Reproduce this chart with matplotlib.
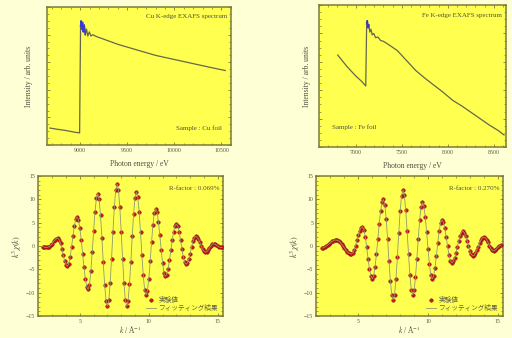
import numpy as np
import matplotlib
matplotlib.use("Agg")
import matplotlib.pyplot as plt
from matplotlib.ticker import MultipleLocator

plt.rcParams['font.family'] = ['Liberation Serif', 'Noto Sans CJK JP', 'DejaVu Sans']
plt.rcParams['mathtext.fontset'] = 'stix'

# ---- Cu K-edge spectrum (arb. units)
cu_energy = [8680, 8750, 8850, 8950, 8995, 9000, 9005, 9010, 9018, 9026, 9034, 9044,
             9055, 9068, 9082, 9098, 9115, 9135, 9160, 9200, 9300, 9400, 9500, 9600,
             9700, 9800, 9900, 10000, 10100, 10200, 10300, 10400, 10540]
cu_intensity = [0.123, 0.115, 0.105, 0.092, 0.088, 0.50, 0.86, 0.90, 0.84, 0.89, 0.82, 0.87,
                0.80, 0.84, 0.79, 0.82, 0.79, 0.80, 0.79, 0.78, 0.755, 0.73, 0.71, 0.69,
                0.67, 0.65, 0.635, 0.62, 0.605, 0.59, 0.575, 0.56, 0.54]

# ---- Fe K-edge spectrum
fe_energy = [6804, 6900, 7000, 7060, 7108, 7112, 7118, 7125, 7133, 7142, 7152, 7164,
             7178, 7195, 7215, 7240, 7270, 7300, 7360, 7450, 7550, 7650, 7750, 7850,
             7950, 8050, 8150, 8250, 8350, 8450, 8550, 8610]
fe_intensity = [0.648, 0.57, 0.50, 0.465, 0.43, 0.60, 0.87, 0.89, 0.84, 0.86, 0.81, 0.83,
                0.79, 0.80, 0.77, 0.775, 0.75, 0.745, 0.72, 0.68, 0.61, 0.54, 0.485, 0.435,
                0.385, 0.33, 0.29, 0.245, 0.20, 0.155, 0.115, 0.085]

# ---- k^3 chi(k), Cu foil (k = 2.3 ... 15.3, step 0.1)
cu_k_start = 2.3
cu_chi = [-0.1, -0.2, -0.3, -0.3, -0.2,
          -0.1, 0.2, 0.5, 1.0, 1.3, 1.6, 1.7,
          1.4, 0.6, -0.6, -2.0, -3.2, -4.0, -4.3,
          -3.8, -2.3, -0.2, 2.1, 4.2, 5.7, 6.2,
          5.6, 3.9, 1.4, -1.6, -4.5, -7.0, -8.7, -9.3,
          -8.3, -5.4, -1.3, 3.2, 7.3, 10.2, 11.2,
          10.0, 6.6, 1.8, -3.5, -8.3, -11.7, -12.9,
          -11.6, -7.9, -2.7, 3.1, 8.3, 12.0, 13.3,
          12.0, 8.3, 3.1, -2.7, -7.9, -11.6, -12.9,
          -11.7, -8.2, -3.4, 2.1, 6.9, 10.4, 11.6,
          10.5, 7.4, 3.0, -1.9, -6.3, -9.4, -10.5,
          -9.6, -7.0, -3.3, 0.8, 4.5, 7.1, 8.0,
          7.3, 5.2, 2.3, -0.8, -3.7, -5.8, -6.5,
          -6.1, -4.9, -3.0, -0.9, 1.2, 3.1, 4.3, 4.7,
          4.3, 3.1, 1.3, -0.6, -2.3, -3.5, -3.9,
          -3.6, -2.8, -1.6, -0.2, 1.0, 1.8, 2.1,
          1.9, 1.5, 0.8, 0.0, -0.7, -1.1, -1.3,
          -1.2, -0.9, -0.4, 0.0, 0.4, 0.5,
          0.4, 0.2, 0.0, -0.2, -0.3, -0.3]

# ---- k^3 chi(k), Fe foil (k = 2.4 ... 15.2, step 0.1)
fe_k_start = 2.4
fe_chi = [-0.4, -0.4, -0.2, 0.0, 0.2, 0.5, 0.7, 1.0, 1.1, 1.3, 1.3,
          1.2, 1.1, 0.8, 0.4, 0.0, -0.4, -0.8, -1.2, -1.5, -1.6, -1.7,
          -1.5, -0.9, 0.1, 1.2, 2.3, 3.3, 3.9, 4.1,
          3.5, 2.0, -0.2, -2.7, -4.9, -6.4, -7.0,
          -6.4, -4.5, -1.8, 1.5, 4.8, 7.5, 9.4, 10.0,
          8.9, 5.9, 1.6, -3.2, -7.5, -10.5, -11.6,
          -10.4, -7.1, -2.4, 2.8, 7.5, 10.8, 12.0,
          10.9, 7.7, 3.2, -1.7, -6.2, -9.4, -10.5,
          -9.5, -6.7, -2.7, 1.6, 5.6, 8.4, 9.4,
          8.6, 6.3, 3.0, -0.6, -3.9, -6.2, -7.0,
          -6.4, -4.6, -2.1, 0.7, 3.2, 5.0, 5.6,
          5.1, 3.9, 2.0, 0.0, -1.9, -3.1, -3.6,
          -3.3, -2.6, -1.5, -0.2, 1.1, 2.2, 2.9, 3.2,
          2.9, 2.2, 1.1, 0.0, -1.1, -1.8, -2.1,
          -2.0, -1.5, -0.9, -0.1, 0.7, 1.3, 1.8, 1.9,
          1.8, 1.4, 0.8, 0.1, -0.5, -0.9, -1.0,
          -0.9, -0.6, -0.3, 0.0, 0.2]

r_factors = ["0.069%", "0.270%"]
legend_labels = ["実験値", "フィッティング結果"]

bg = '#ffffd6'
face = '#ffff50'
spine = '#7c7c38'
tick_txt = '#5a5a40'
curve = '#66664a'

fig = plt.figure(figsize=(5.12, 3.38), dpi=100, facecolor=bg)


def style(ax):
    ax.set_facecolor(face)
    for s in ax.spines.values():
        s.set_color(spine)
        s.set_linewidth(1.1)
    ax.tick_params(which='both', direction='in', top=True, right=True,
                   color=spine, labelcolor=tick_txt, labelsize=4.2, pad=2)
    ax.tick_params(which='major', length=2.5, width=0.6)
    ax.tick_params(which='minor', length=1.3, width=0.5)


def spectrum(rect, energy, inten, xlim, ticks, edge_lo, edge_hi, title, sample, sample_xy, ylpad):
    ax = fig.add_axes(rect)
    style(ax)
    e = np.array(energy)
    y = np.array(inten)
    ax.plot(e, y, color=curve, lw=0.9)
    m = (e >= edge_lo) & (e <= edge_hi)
    ax.plot(e[m], y[m], color='#3a3ad0', lw=1.1)
    ax.set_xlim(*xlim)
    ax.set_ylim(0, 1)
    ax.set_xticks(ticks)
    ax.xaxis.set_minor_locator(MultipleLocator(100))
    ax.yaxis.set_major_locator(MultipleLocator(0.2))
    ax.yaxis.set_minor_locator(MultipleLocator(0.05))
    ax.set_yticklabels([])
    ax.text(0.98, 0.93, title, transform=ax.transAxes, ha='right', va='center',
            fontsize=5, color='#505040')
    ax.text(sample_xy[0], sample_xy[1], sample, transform=ax.transAxes,
            ha=sample_xy[2], va='center', fontsize=5, color='#505040')
    ax.set_xlabel('Photon energy / eV', fontsize=5.5, color='#505040', labelpad=5)
    ax.set_ylabel('Intensity / arb. units', fontsize=5.5, color='#505040', labelpad=ylpad)
    return ax


spectrum([0.092, 0.571, 0.359, 0.408], cu_energy, cu_intensity, (8650, 10600),
         [9000, 9500, 10000, 10500], 9005, 9060,
         'Cu K-edge EXAFS spectrum', 'Sample : Cu foil', (0.95, 0.12, 'right'), 8)
spectrum([0.623, 0.565, 0.365, 0.420], fe_energy, fe_intensity, (6600, 8630),
         [7000, 7500, 8000, 8500], 7118, 7150,
         'Fe K-edge EXAFS spectrum', 'Sample : Fe foil', (0.07, 0.14, 'left'), 4)


def chi_panel(rect, k0, chi, rf):
    ax = fig.add_axes(rect)
    style(ax)
    k = np.round(k0 + 0.1 * np.arange(len(chi)), 1)
    ax.plot(k, chi, ls='none', marker='o', ms=2.5, mfc='#d01515', mec='#8e1010',
            mew=0.4, label=legend_labels[0], zorder=3)
    ax.plot(k, chi, color='#8e9a6a', lw=0.6, label=legend_labels[1], zorder=4)
    ax.set_xlim(1.96, 15.36)
    ax.set_ylim(-15, 15)
    ax.set_xticks([5, 10, 15])
    ax.xaxis.set_minor_locator(MultipleLocator(1))
    ax.set_yticks([-15, -10, -5, 0, 5, 10, 15])
    ax.yaxis.set_minor_locator(MultipleLocator(1))
    ax.text(0.98, 0.91, 'R-factor : ' + rf, transform=ax.transAxes, ha='right',
            va='center', fontsize=5, color='#505040')
    ax.legend(loc='lower right', fontsize=4.8, frameon=False, handlelength=1.4,
              handletextpad=0.4, labelspacing=0.2, borderaxespad=0.3,
              labelcolor='#606048')
    ax.set_xlabel(r'$k$ / Å$^{-1}$', fontsize=5.5, color='#505040', labelpad=0.5)
    ax.set_ylabel(r'$k^3\chi(k)$', fontsize=6, color='#505040', labelpad=1)
    return ax


chi_panel([0.074, 0.065, 0.361, 0.414], cu_k_start, cu_chi, r_factors[0])
chi_panel([0.617, 0.065, 0.365, 0.414], fe_k_start, fe_chi, r_factors[1])

fig.savefig('out.png', dpi=100, facecolor=bg)
